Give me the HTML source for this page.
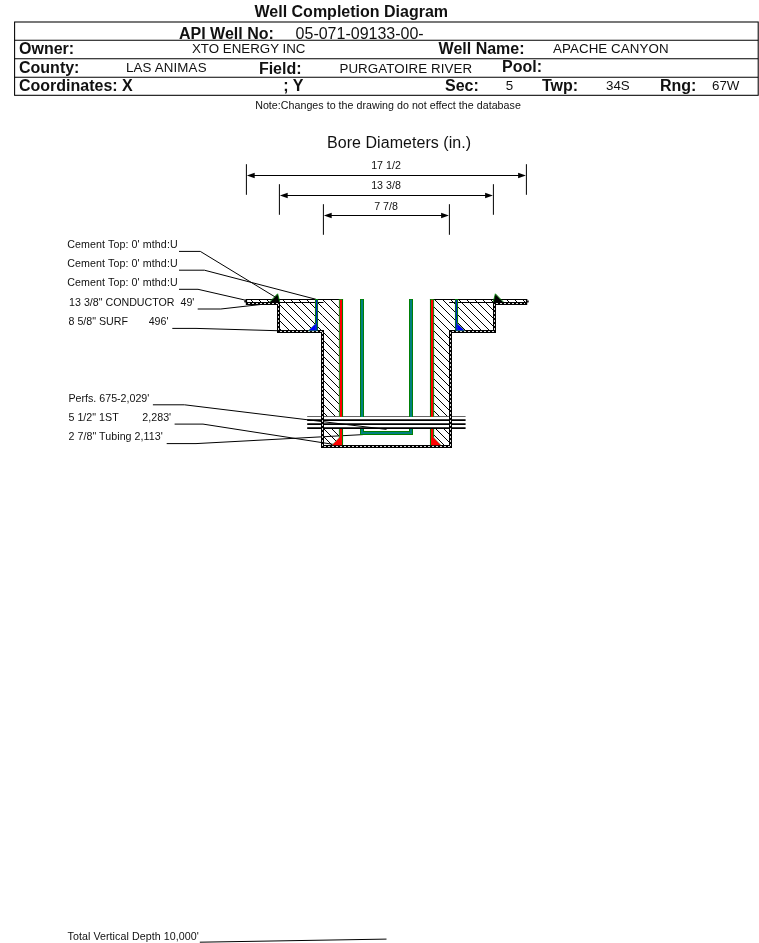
<!DOCTYPE html>
<html><head><meta charset="utf-8"><title>Well Completion Diagram</title>
<style>
html,body{margin:0;padding:0;background:#fff;}
body{width:759px;height:943px;position:relative;overflow:hidden;font-family:"Liberation Sans",sans-serif;color:#000;}
.t{position:absolute;white-space:pre;color:#111;}
svg{position:absolute;left:0;top:0;}
#txt{position:absolute;left:0;top:0;width:759px;height:943px;will-change:transform;}
</style></head><body>
<svg width="759" height="943" viewBox="0 0 759 943">
<defs>
<pattern id="h" width="8" height="8" patternUnits="userSpaceOnUse" patternTransform="translate(-1,0)">
<path d="M-1,-1 L9,9 M-1,7 L1,9 M7,-1 L9,1" stroke="#000" stroke-width="1" fill="none"/>
</pattern>
</defs>
<g stroke="#000" stroke-width="1.05" fill="none">
<rect x="14.6" y="22.0" width="743.6" height="73.3"/>
<line x1="14.6" y1="40.3" x2="758.2" y2="40.3"/>
<line x1="14.6" y1="58.65" x2="758.2" y2="58.65"/>
<line x1="14.6" y1="77.2" x2="758.2" y2="77.2"/>
</g>
<line x1="246.4" y1="164.2" x2="246.4" y2="194.8" stroke="#000" stroke-width="1"/>
<line x1="526.4" y1="164.2" x2="526.4" y2="194.8" stroke="#000" stroke-width="1"/>
<line x1="250.4" y1="175.5" x2="522.4" y2="175.5" stroke="#000" stroke-width="1"/>
<polygon points="246.9,175.5 254.7,172.85 254.7,178.15" fill="#000"/>
<polygon points="525.9,175.5 518.1,172.85 518.1,178.15" fill="#000"/>
<line x1="279.4" y1="184.2" x2="279.4" y2="214.8" stroke="#000" stroke-width="1"/>
<line x1="493.4" y1="184.2" x2="493.4" y2="214.8" stroke="#000" stroke-width="1"/>
<line x1="283.4" y1="195.5" x2="489.4" y2="195.5" stroke="#000" stroke-width="1"/>
<polygon points="279.9,195.5 287.7,192.85 287.7,198.15" fill="#000"/>
<polygon points="492.9,195.5 485.1,192.85 485.1,198.15" fill="#000"/>
<line x1="323.4" y1="204.2" x2="323.4" y2="234.8" stroke="#000" stroke-width="1"/>
<line x1="449.4" y1="204.2" x2="449.4" y2="234.8" stroke="#000" stroke-width="1"/>
<line x1="327.4" y1="215.5" x2="445.4" y2="215.5" stroke="#000" stroke-width="1"/>
<polygon points="323.9,215.5 331.7,212.85 331.7,218.15" fill="#000"/>
<polygon points="448.9,215.5 441.1,212.85 441.1,218.15" fill="#000"/>
<polyline points="179,251.4 200.3,251.4 277.8,298.6" fill="none" stroke="#000" stroke-width="1"/>
<polyline points="179,270.2 204.4,270.2 316,299.3" fill="none" stroke="#000" stroke-width="1"/>
<polyline points="179,289.3 198,289.3 246,300.3" fill="none" stroke="#000" stroke-width="1"/>
<polyline points="197.7,309.0 220.8,309.0 277.5,302.6" fill="none" stroke="#000" stroke-width="1"/>
<polyline points="172.3,328.4 196,328.4 316,331.8" fill="none" stroke="#000" stroke-width="1"/>
<polyline points="152.9,404.8 184.5,404.8 386.5,429.4" fill="none" stroke="#000" stroke-width="1"/>
<polyline points="174.6,424.1 203,424.1 333.5,444.4" fill="none" stroke="#000" stroke-width="1"/>
<polyline points="166.7,443.6 196,443.6 363.0,434.6" fill="none" stroke="#000" stroke-width="1"/>
<rect x="246" y="299.5" width="32.5" height="4" fill="url(#h)"/>
<rect x="278.5" y="299.5" width="44" height="32" fill="url(#h)"/>
<rect x="322.5" y="299.5" width="18" height="117.5" fill="url(#h)"/>
<rect x="322.5" y="429" width="18" height="17.5" fill="url(#h)"/>
<rect x="494.5" y="299.5" width="32.5" height="4" fill="url(#h)"/>
<rect x="450.5" y="299.5" width="44" height="32" fill="url(#h)"/>
<rect x="432.5" y="299.5" width="18" height="117.5" fill="url(#h)"/>
<rect x="432.5" y="429" width="18" height="17.5" fill="url(#h)"/>
<line x1="307.2" y1="416.5" x2="465.6" y2="416.5" stroke="#555" stroke-width="0.9"/>
<line x1="307.2" y1="420.05" x2="465.6" y2="420.05" stroke="#000" stroke-width="1.75"/>
<line x1="307.2" y1="424.1" x2="465.6" y2="424.1" stroke="#000" stroke-width="1.75"/>
<line x1="307.2" y1="428.05" x2="465.6" y2="428.05" stroke="#000" stroke-width="1.75"/>
<line x1="245.8" y1="299.5" x2="339.5" y2="299.5" stroke="#000" stroke-width="1.15"/>
<line x1="433.5" y1="299.5" x2="527.2" y2="299.5" stroke="#000" stroke-width="1.15"/>
<line x1="245.8" y1="302.5" x2="323.5" y2="302.5" stroke="#000" stroke-width="1.1"/>
<line x1="449.2" y1="302.5" x2="527.2" y2="302.5" stroke="#000" stroke-width="1.1"/>
<line x1="246.5" y1="303.5" x2="280.0" y2="303.5" stroke="#000" stroke-width="3"/>
<line x1="278.5" y1="302.0" x2="278.5" y2="333.0" stroke="#000" stroke-width="3"/>
<line x1="277.0" y1="331.5" x2="324.0" y2="331.5" stroke="#000" stroke-width="3"/>
<line x1="322.5" y1="330.0" x2="322.5" y2="448.0" stroke="#000" stroke-width="3"/>
<line x1="321.0" y1="446.5" x2="452.0" y2="446.5" stroke="#000" stroke-width="3"/>
<line x1="450.5" y1="330.0" x2="450.5" y2="448.0" stroke="#000" stroke-width="3"/>
<line x1="449.0" y1="331.5" x2="496.0" y2="331.5" stroke="#000" stroke-width="3"/>
<line x1="494.5" y1="302.0" x2="494.5" y2="333.0" stroke="#000" stroke-width="3"/>
<line x1="493.0" y1="303.5" x2="526.5" y2="303.5" stroke="#000" stroke-width="3"/>
<line x1="248.0" y1="303.5" x2="278.5" y2="303.5" stroke="#f4f4f4" stroke-width="0.9" stroke-dasharray="2 2" stroke-dashoffset="0.0"/>
<line x1="278.5" y1="303.5" x2="278.5" y2="331.5" stroke="#f4f4f4" stroke-width="0.9" stroke-dasharray="2 2" stroke-dashoffset="3.5"/>
<line x1="278.5" y1="331.5" x2="322.5" y2="331.5" stroke="#f4f4f4" stroke-width="0.9" stroke-dasharray="2 2" stroke-dashoffset="2.5"/>
<line x1="322.5" y1="331.5" x2="322.5" y2="446.5" stroke="#f4f4f4" stroke-width="0.9" stroke-dasharray="2 2" stroke-dashoffset="3.5"/>
<line x1="322.5" y1="446.5" x2="450.5" y2="446.5" stroke="#f4f4f4" stroke-width="0.9" stroke-dasharray="2 2" stroke-dashoffset="2.5"/>
<line x1="450.5" y1="331.5" x2="450.5" y2="446.5" stroke="#f4f4f4" stroke-width="0.9" stroke-dasharray="2 2" stroke-dashoffset="3.5"/>
<line x1="450.5" y1="331.5" x2="494.5" y2="331.5" stroke="#f4f4f4" stroke-width="0.9" stroke-dasharray="2 2" stroke-dashoffset="2.5"/>
<line x1="494.5" y1="303.5" x2="494.5" y2="331.5" stroke="#f4f4f4" stroke-width="0.9" stroke-dasharray="2 2" stroke-dashoffset="3.5"/>
<line x1="494.5" y1="303.5" x2="525.0" y2="303.5" stroke="#f4f4f4" stroke-width="0.9" stroke-dasharray="2 2" stroke-dashoffset="2.5"/>
<rect x="245.8" y="299" width="1.3" height="6" fill="#000"/><rect x="244.3" y="300.5" width="1.6" height="1.9" fill="#000"/>
<rect x="525.9" y="299" width="1.3" height="6" fill="#000"/><rect x="527.1" y="300.5" width="1.6" height="1.9" fill="#000"/>
<line x1="316.5" y1="299.0" x2="316.5" y2="330.7" stroke="#008000" stroke-width="3.1"/>
<polygon points="316.0,330.7 316.0,323.2 308.2,330.7" fill="#0000ff" stroke="#30a030" stroke-width="0.5"/>
<line x1="316.6" y1="299.9" x2="316.6" y2="330.7" stroke="#0020c8" stroke-width="1.3"/>
<line x1="456.5" y1="299.0" x2="456.5" y2="330.7" stroke="#008000" stroke-width="3.1"/>
<polygon points="457.0,330.7 457.0,323.2 464.8,330.7" fill="#0000ff" stroke="#30a030" stroke-width="0.5"/>
<line x1="456.4" y1="299.9" x2="456.4" y2="330.7" stroke="#0020c8" stroke-width="1.3"/>
<polygon points="269.8,302.3 277.6,294 279.8,302.3" fill="#000"/><polyline points="269.6,302 277.6,293.8 279.7,301.6" fill="none" stroke="#008000" stroke-width="0.9"/>
<polygon points="503.2,302.3 495.4,294 493.2,302.3" fill="#000"/><polyline points="503.4,302 495.4,293.8 493.3,301.6" fill="none" stroke="#008000" stroke-width="0.9"/>
<rect x="338.9" y="299.0" width="1.3" height="117.9" fill="#2c962c"/>
<rect x="341.7" y="299.0" width="1.35" height="117.9" fill="#008000"/>
<rect x="338.9" y="299.0" width="4.15" height="0.9" fill="#008000"/>
<rect x="339.9" y="299.8" width="2.1" height="117.1" fill="#ff0000"/>
<rect x="338.9" y="429.0" width="1.3" height="16.2" fill="#2c962c"/>
<rect x="341.7" y="429.0" width="1.35" height="16.2" fill="#008000"/>
<rect x="339.9" y="429.0" width="2.1" height="16.2" fill="#ff0000"/>
<polygon points="340.4,445.2 340.4,437.0 339.9,437.0 332.0,445.2" fill="#ff0000"/>
<line x1="339.9" y1="436.8" x2="331.8" y2="445.2" stroke="#50a850" stroke-width="0.5"/>
<rect x="429.95" y="299.0" width="1.35" height="117.9" fill="#008000"/>
<rect x="432.8" y="299.0" width="1.3" height="117.9" fill="#109010"/>
<rect x="429.95" y="299.0" width="4.15" height="0.9" fill="#008000"/>
<rect x="431.0" y="299.8" width="2.1" height="117.1" fill="#ff0000"/>
<rect x="429.95" y="429.0" width="1.35" height="16.2" fill="#008000"/>
<rect x="432.8" y="429.0" width="1.3" height="16.2" fill="#109010"/>
<rect x="431.0" y="429.0" width="2.1" height="16.2" fill="#ff0000"/>
<polygon points="432.6,445.2 432.6,437.0 433.1,437.0 441.0,445.2" fill="#ff0000"/>
<line x1="433.1" y1="436.8" x2="441.2" y2="445.2" stroke="#50a850" stroke-width="0.5"/>
<path d="M362,299.0 L362,416.9 M411,299.0 L411,416.9 M362,429 L362,433 L411,433 L411,429" fill="none" stroke="#008000" stroke-width="4"/>
<path d="M362,299.8 L362,416.9 M411,299.8 L411,416.9 M362,429 L362,433 L411,433 L411,429" fill="none" stroke="#008080" stroke-width="2.1"/>
<line x1="199.8" y1="942.2" x2="386.5" y2="939.1" stroke="#000" stroke-width="1"/>
</svg>
<div id="txt">
<div class="t" style="left:254.5px;top:4.26px;font-size:16px;line-height:16px;font-weight:bold;">Well Completion Diagram</div>
<div class="t" style="left:179px;top:25.86px;font-size:16px;line-height:16px;font-weight:bold;">API Well No:</div>
<div class="t" style="left:295.6px;top:25.86px;font-size:16px;line-height:16px;">05-071-09133-00-</div>
<div class="t" style="left:19px;top:41.06px;font-size:16px;line-height:16px;font-weight:bold;">Owner:</div>
<div class="t" style="left:191.9px;top:42.32px;font-size:13.33px;line-height:13.33px;">XTO ENERGY INC</div>
<div class="t" style="left:438.6px;top:41.06px;font-size:16px;line-height:16px;font-weight:bold;">Well Name:</div>
<div class="t" style="left:553px;top:42.32px;font-size:13.33px;line-height:13.33px;letter-spacing:0.08px;">APACHE CANYON</div>
<div class="t" style="left:19px;top:60.06px;font-size:16px;line-height:16px;font-weight:bold;">County:</div>
<div class="t" style="left:126px;top:60.72px;font-size:13.33px;line-height:13.33px;letter-spacing:0.14px;">LAS ANIMAS</div>
<div class="t" style="left:258.9px;top:61.06px;font-size:16px;line-height:16px;font-weight:bold;">Field:</div>
<div class="t" style="left:339.4px;top:62.32px;font-size:13.33px;line-height:13.33px;letter-spacing:0.1px;">PURGATOIRE RIVER</div>
<div class="t" style="left:502px;top:59.46px;font-size:16px;line-height:16px;font-weight:bold;">Pool:</div>
<div class="t" style="left:19px;top:78.46px;font-size:16px;line-height:16px;font-weight:bold;">Coordinates: X</div>
<div class="t" style="left:283.2px;top:77.96px;font-size:16px;line-height:16px;font-weight:bold;">; Y</div>
<div class="t" style="left:445px;top:77.96px;font-size:16px;line-height:16px;font-weight:bold;">Sec:</div>
<div class="t" style="left:505.8px;top:78.72px;font-size:13.33px;line-height:13.33px;">5</div>
<div class="t" style="left:542px;top:77.96px;font-size:16px;line-height:16px;font-weight:bold;">Twp:</div>
<div class="t" style="left:606px;top:78.72px;font-size:13.33px;line-height:13.33px;">34S</div>
<div class="t" style="left:660px;top:77.96px;font-size:16px;line-height:16px;font-weight:bold;">Rng:</div>
<div class="t" style="left:712px;top:78.72px;font-size:13.33px;line-height:13.33px;">67W</div>
<div class="t" style="left:255.2px;top:99.77px;font-size:10.67px;line-height:10.67px;letter-spacing:0.03px;">Note:Changes to the drawing do not effect the database</div>
<div class="t" style="left:327px;top:135.06px;font-size:16px;line-height:16px;letter-spacing:0.05px;">Bore Diameters (in.)</div>
<div class="t" style="left:386.0px;top:159.67px;font-size:10.67px;line-height:10.67px;transform:translateX(-50%);">17 1/2</div>
<div class="t" style="left:386.0px;top:180.47px;font-size:10.67px;line-height:10.67px;transform:translateX(-50%);">13 3/8</div>
<div class="t" style="left:386.0px;top:200.57px;font-size:10.67px;line-height:10.67px;transform:translateX(-50%);">7 7/8</div>
<div class="t" style="left:67.2px;top:238.77px;font-size:10.67px;line-height:10.67px;letter-spacing:0.1px;">Cement Top: 0' mthd:U</div>
<div class="t" style="left:67.2px;top:257.77px;font-size:10.67px;line-height:10.67px;letter-spacing:0.1px;">Cement Top: 0' mthd:U</div>
<div class="t" style="left:67.2px;top:277.07px;font-size:10.67px;line-height:10.67px;letter-spacing:0.1px;">Cement Top: 0' mthd:U</div>
<div class="t" style="left:69.1px;top:297.27px;font-size:10.67px;line-height:10.67px;">13 3/8" CONDUCTOR  49'</div>
<div class="t" style="left:68.5px;top:316.07px;font-size:10.67px;line-height:10.67px;">8 5/8" SURF       496'</div>
<div class="t" style="left:68.5px;top:392.57px;font-size:10.67px;line-height:10.67px;">Perfs. 675-2,029'</div>
<div class="t" style="left:68.5px;top:411.82px;font-size:10.67px;line-height:10.67px;letter-spacing:0.02px;">5 1/2" 1ST        2,283'</div>
<div class="t" style="left:68.5px;top:430.87px;font-size:10.67px;line-height:10.67px;letter-spacing:0.05px;">2 7/8" Tubing 2,113'</div>
<div class="t" style="left:67.5px;top:930.57px;font-size:10.67px;line-height:10.67px;letter-spacing:0.07px;">Total Vertical Depth 10,000'</div>
</div>
</body></html>
